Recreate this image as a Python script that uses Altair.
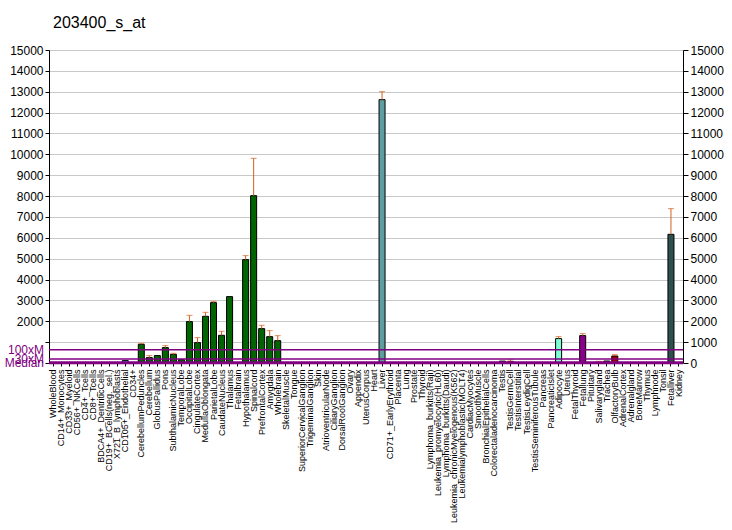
import altair as alt
import pandas as pd

categories = [
    "WholeBlood", "CD14+_Monocytes", "CD33+_Myeloid", "CD56+_NKCells", "CD4+_Tcells",
    "CD8+_Tcells", "BDCA4+_DentriticCells", "CD19+_BCells(neg._sel.)", "X721_B_lymphoblasts",
    "CD105+_Endothelial", "CD34+", "CerebellumPeduncles", "Cerebellum", "GlobusPallidus",
    "Pons", "SubthalamicNucleus", "TemporalLobe", "OccipitalLobe", "CingulateCortex",
    "MedullaOblongata", "ParietalLobe", "CaudateNucleus", "Thalamus", "Fetalbrain",
    "Hypothalamus", "Spinalcord", "PrefrontalCortex", "Amygdala", "Wholebrain",
    "SkeletalMuscle", "Tongue", "SuperiorCervicalGanglion", "TrigeminalGanglion", "Skin",
    "AtrioventricularNode", "CiliaryGanglion", "DorsalRootGanglion", "Ovary", "Appendix",
    "UterusCorpus", "Heart", "Liver", "CD71+_EarlyErythroid", "Placenta", "Lung",
    "Prostate", "Thyroid", "Lymphoma_burkitts(Raji)", "Leukemia_promyelocytic(HL60)",
    "Lymphoma_burkitts(Daudi)", "Leukemia_chronicMyelogenous(K562)",
    "Leukemialymphoblastic(MOLT4)", "CardiacMyocytes", "SmoothMuscle",
    "BronchialEpithelialCells", "Colorectaladenocarcinoma", "Testis", "TestisGermCell",
    "TestisInterstitial", "TestisLeydigCell", "TestisSeminiferousTubule", "Pancreas",
    "PancreaticIslet", "Adipocyte", "Uterus", "FetalThyroid", "Fetallung", "Pituitary",
    "Salivarygland", "Trachea", "OlfactoryBulb", "AdrenalCortex", "Adrenalgland",
    "BoneMarrow", "Thymus", "Lymphnode", "Tonsil", "Fetalliver", "Kidney",
]

values = [
    0, 0, 0, 0, 0, 0, 0, 0, 0, 115,
    0, 896, 258, 355, 737, 417, 160, 1983, 977, 2238,
    2893, 1327, 3181, 0, 4954, 8019, 1647, 1263, 1071, 0,
    0, 0, 0, 0, 0, 0, 0, 0, 0, 0,
    0, 12620, 0, 0, 0, 0, 0, 0, 0, 0,
    0, 0, 0, 0, 0, 0, 90, 60, 0, 0,
    0, 0, 0, 1169, 0, 0, 1313, 0, 30, 96,
    335, 0, 0, 0, 0, 0, 0, 6167, 0,
]

errors = [
    0, 0, 0, 0, 0, 0, 0, 0, 0, 0,
    0, 44, 97, 0, 96, 48, 0, 302, 240, 192,
    64, 192, 0, 0, 192, 1790, 160, 288, 240, 0,
    0, 0, 0, 0, 0, 0, 0, 0, 0, 0,
    0, 385, 0, 0, 0, 0, 0, 0, 0, 0,
    0, 0, 0, 0, 0, 0, 0, 85, 0, 0,
    0, 0, 0, 96, 0, 0, 96, 0, 50, 0,
    65, 0, 0, 0, 0, 0, 0, 1231, 0,
]

brain = "#006400"
colors = (
    ["#999999"] * 9 + ["#00CED1", "#999999"] + [brain] * 18 + ["#999999"] * 12
    + ["#5F9EA0"] + ["#999999"] * 14 + ["#1a1a1a", "#2a2a2a"] + ["#999999"] * 5
    + ["#7FFFD4", "#999999", "#999999", "#8B008B", "#999999", "#8B008B", "#1a1a1a",
       "#A00000", "#999999", "#999999", "#999999", "#999999", "#999999", "#999999",
       "#2F4F4F", "#999999"]
)

ref_names = ["Median", "30xM", "100xM"]
ref_values = [6.4, 192, 640]
ref_widths = [3, 1.5, 1.5]

tick_values = list(range(0, 15001, 1000))

df = pd.DataFrame({"cat": categories, "value": values, "err": errors, "color": colors})
df["top"] = df["value"] + df["err"]
refs = pd.DataFrame({"name": ref_names, "v": ref_values, "w": ref_widths})

FONT = "Liberation Sans"
PURPLE = "#800080"
ERR = "#D0621E"
ydom = alt.Scale(domain=[0, 15000], nice=False)

x_enc = alt.X(
    "cat:N", sort=categories,
    scale=alt.Scale(paddingInner=0.25, paddingOuter=0.125),
    axis=alt.Axis(title=None, labelAngle=270, labelAlign="right", labelBaseline="middle",
                  labelFontSize=9, labelFont=FONT, labelColor="black", labelPadding=3,
                  ticks=True, tickSize=3, tickColor="black", domain=False,
                  labelOverlap=False, labelLimit=300),
)

base = alt.Chart(df)

left_axis = base.mark_bar(opacity=0).encode(
    x=x_enc,
    y=alt.Y("value:Q", scale=ydom, axis=alt.Axis(
        orient="left", title=None, values=tick_values, format="d",
        labelExpr="datum.value < 1500 ? '' : datum.label",
        grid=True, gridColor="#C8C8C8", gridWidth=1,
        labelFont=FONT, labelFontSize=12, labelColor="black", labelPadding=2,
        tickSize=4, tickColor="black", domainColor="black", domainWidth=1)),
)

right_axis = base.mark_bar(opacity=0).encode(
    x=x_enc,
    y=alt.Y("value:Q", scale=ydom, axis=alt.Axis(
        orient="right", title=None, values=tick_values, format="d", grid=False,
        labelFont=FONT, labelFontSize=12, labelColor="black", labelPadding=2,
        tickSize=5, tickColor="black", domainColor="black", domainWidth=1)),
)

bars = base.transform_filter("datum.value > 0").mark_bar(
    stroke="black", strokeWidth=1
).encode(
    x=x_enc,
    y=alt.Y("value:Q", scale=ydom, axis=None),
    color=alt.Color("color:N", scale=None, legend=None),
)

err_rule = base.transform_filter("datum.err > 0").mark_rule(color=ERR, strokeWidth=1).encode(
    x=x_enc,
    y=alt.Y("value:Q", scale=ydom, axis=None),
    y2="top:Q",
)

err_cap = base.transform_filter("datum.err > 0").mark_tick(
    color=ERR, size=6, thickness=1
).encode(
    x=x_enc,
    y=alt.Y("top:Q", scale=ydom, axis=None),
)

ref_lines = alt.Chart(refs).mark_rule(color=PURPLE).encode(
    y=alt.Y("v:Q", scale=ydom, axis=None),
    strokeWidth=alt.StrokeWidth("w:Q", scale=None, legend=None),
)

ref_text = alt.Chart(refs).mark_text(
    color=PURPLE, align="right", baseline="middle", font=FONT, fontSize=12
).encode(
    x=alt.value(-5),
    y=alt.Y("v:Q", scale=ydom, axis=None),
    text="name:N",
)

chart = alt.layer(
    left_axis, right_axis, bars, err_rule, err_cap, ref_lines, ref_text
).resolve_scale(y="independent").properties(
    width=634, height=313,
    title=alt.TitleParams("203400_s_at", anchor="start", frame="group", fontSize=16,
                          fontWeight="normal", font=FONT, color="black", dx=4, offset=13),
    autosize=alt.AutoSizeParams(type="none"),
    padding={"left": 49, "top": 50, "right": 49, "bottom": 167},
).configure_view(stroke=None).configure(background="white")

chart.save("out.html", embed_options={"renderer": "svg", "actions": False})
